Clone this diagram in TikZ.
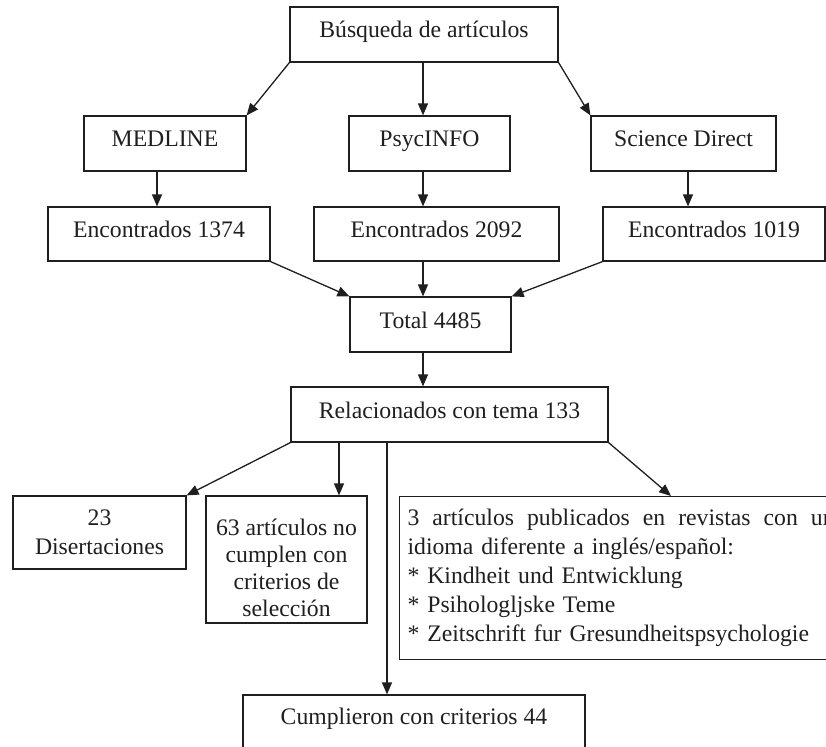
\documentclass[tikz,border=0pt]{standalone}
\usepackage{fontspec}
\setmainfont{Liberation Serif}
\usetikzlibrary{arrows.meta}
\begin{document}
\begin{tikzpicture}[x=1pt,y=-1pt,
  box/.style={draw=black!88, line width=1.2pt, inner sep=0pt, text=black!88, font=\fontsize{23.7}{29}\selectfont},
  single/.style={box, text height=15pt, text depth=8pt},
  arr/.style={draw=black!88, line width=1.3pt, -{Triangle[length=12pt,width=10pt]}}]
\useasboundingbox (0,0) rectangle (826,746);
% boxes
\node[single, minimum width=268pt, minimum height=55pt] (busq) at (424,34.5) {Búsqueda de artículos};
\node[single, minimum width=162pt, minimum height=55pt] (medline) at (165,143.5) {MEDLINE};
\node[single, minimum width=161pt, minimum height=55pt] (psyc) at (429.5,143.5) {PsycINFO};
\node[single, minimum width=185pt, minimum height=55pt] (sd) at (683.5,143.5) {Science Direct};
\node[single, minimum width=222pt, minimum height=54pt] (e1374) at (159,234) {Encontrados 1374};
\node[single, minimum width=245pt, minimum height=54pt] (e2092) at (436.5,234) {Encontrados 2092};
\node[single, minimum width=222pt, minimum height=54pt] (e1019) at (714,234) {Encontrados 1019};
\node[single, minimum width=161pt, minimum height=55pt] (total) at (430.5,324.5) {Total 4485};
\node[single, minimum width=317pt, minimum height=55pt] (rel) at (449.5,414.5) {Relacionados con tema 133};
\node[box, align=center, minimum width=173pt, minimum height=73pt] (dis) at (99.5,532.5) {23\\Disertaciones};
\node[box, align=center, minimum width=161pt, minimum height=127pt, font=\fontsize{23.7}{27}\selectfont] (art63) at (286.5,559.5) {\rule{0pt}{34pt}63 artículos no\\cumplen con\\criterios de\\selección};
\node[box, anchor=north west, text width=427pt, inner xsep=8pt, inner ysep=12.5pt, align=left] (art3) at (399,496)
  {\makebox[427pt][l]{3\hfill artículos\hfill publicados\hfill en\hfill revistas\hfill con\hfill un}\\idioma diferente a inglés/español:\\{}* Kindheit und Entwicklung\\{}* Psihologljske Teme\\{}* Zeitschrift fur Gresundheitspsychologie};
\node[single, text depth=32pt, minimum width=342pt, minimum height=75pt] (cump) at (414,732.5) {Cumplieron con criterios 44};
% x positions of vertical connectors
\coordinate (xa) at (423,0);
\coordinate (xm) at (157,0);
\coordinate (xs) at (688,0);
\coordinate (x63) at (339,0);
\coordinate (xc) at (387,0);
\coordinate (xr) at (671,0);
% connectors
\draw[arr] (busq.south west) -- (medline.north east);
\draw[arr] (busq.south -| xa) -- (psyc.north -| xa);
\draw[arr] (busq.south east) -- (sd.north west);
\draw[arr] (medline.south -| xm) -- (e1374.north -| xm);
\draw[arr] (psyc.south -| xa) -- (e2092.north -| xa);
\draw[arr] (sd.south -| xs) -- (e1019.north -| xs);
\draw[arr] (e1374.south east) -- (total.north west);
\draw[arr] (e2092.south -| xa) -- (total.north -| xa);
\draw[arr] (e1019.south west) -- (total.north east);
\draw[arr] (total.south -| xa) -- (rel.north -| xa);
\draw[arr] (rel.south west) -- (dis.north east);
\draw[arr] (rel.south -| x63) -- (art63.north -| x63);
\draw[arr] (rel.south -| xc) -- (cump.north -| xc);
\draw[arr] (rel.south east) -- (art3.north -| xr);
\end{tikzpicture}
\end{document}
